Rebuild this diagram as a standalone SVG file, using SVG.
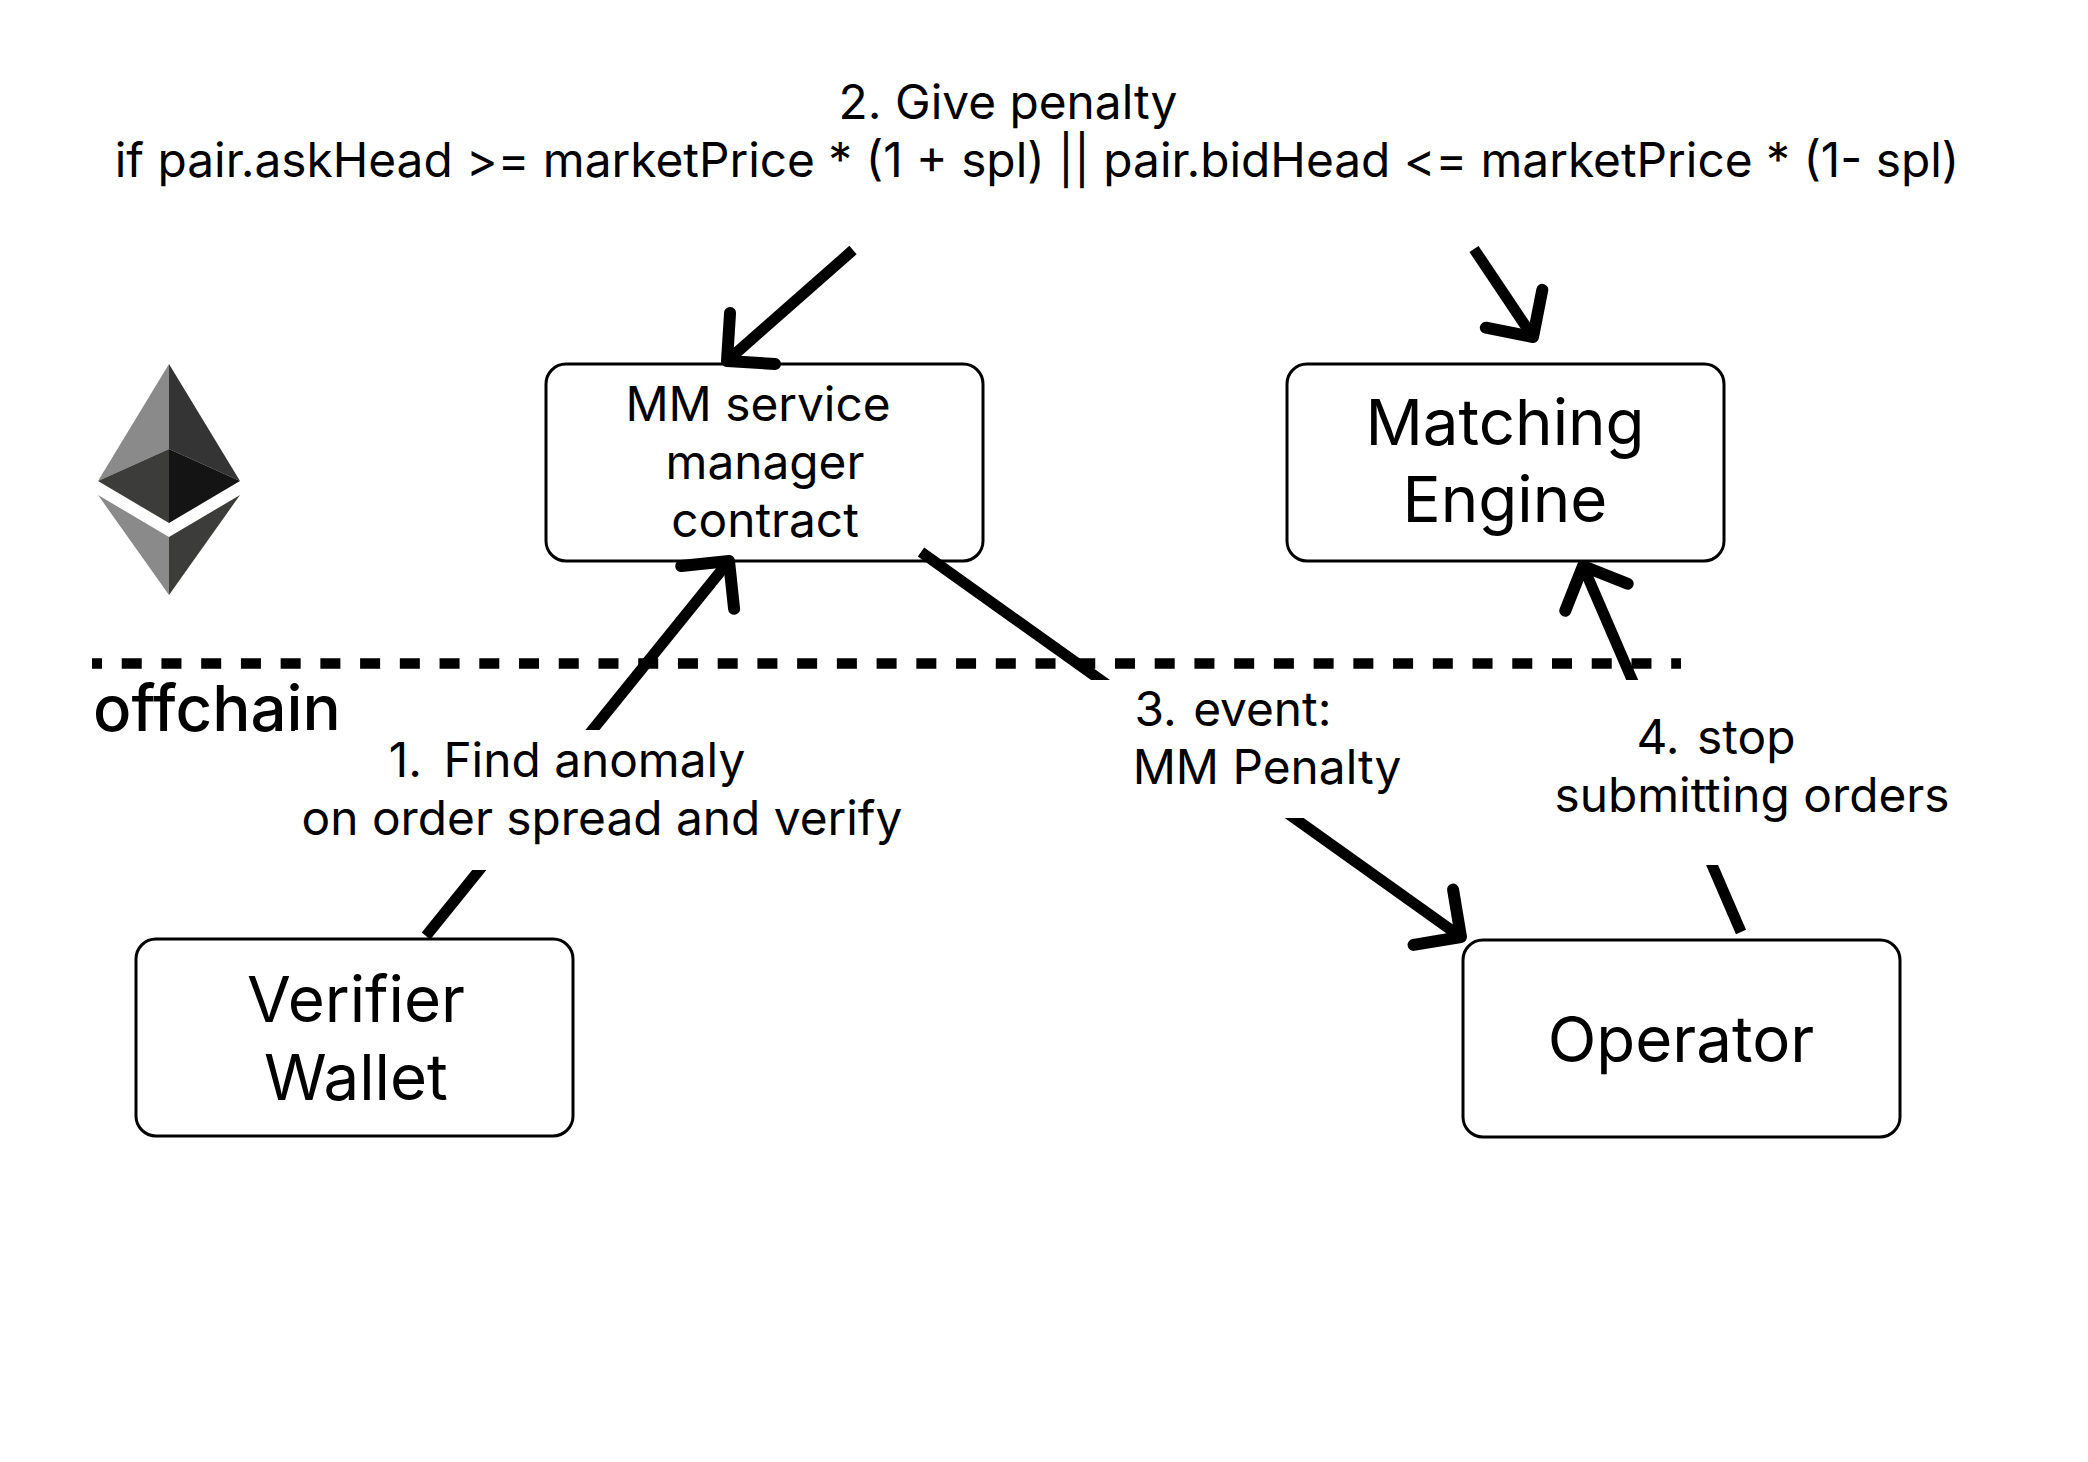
<svg xmlns="http://www.w3.org/2000/svg" width="2088" height="1462" viewBox="0 0 2088 1462">
<style>
text{font-family:Inter,"Liberation Sans",sans-serif;fill:#000;text-anchor:middle}
.s{font-size:47.8px}
.l{font-size:63.6px}
.box{fill:#fff;stroke:#000;stroke-width:3}
.c{fill:none;stroke:#000;stroke-width:11;marker-end:url(#a)}
.mask{fill:#fff}
</style>
<defs>
<marker id="a" markerUnits="userSpaceOnUse" markerWidth="100" markerHeight="100" refX="50" refY="50" orient="auto" viewBox="0 0 100 100" overflow="visible">
<path d="M16,16 L50,50 L16,84" fill="none" stroke="#000" stroke-width="12" stroke-linecap="round" stroke-linejoin="round"/>
</marker>
</defs>
<rect width="2088" height="1462" fill="#fff"/>
<g id="eth">
<polygon points="169,364 98,481 169,449" fill="#8a8a8a"/>
<polygon points="169,364 240,481 169,449" fill="#343434"/>
<polygon points="98,481 169,449 169,523" fill="#3c3c3b"/>
<polygon points="240,481 169,449 169,523" fill="#141414"/>
<polygon points="98,495 169,537 169,595" fill="#8a8a8a"/>
<polygon points="240,495 169,537 169,595" fill="#3c3c3b"/>
</g>
<g id="mm"><rect class="box" x="546" y="364" width="437" height="197" rx="20"/>
<text class="s" x="758" y="421">MM service</text><text class="s" x="765" y="479">manager</text><text class="s" x="765" y="537">contract</text></g>
<g id="engine"><rect class="box" x="1287" y="364" width="437" height="197" rx="20"/>
<text class="l" x="1505" y="445">Matching</text><text class="l" x="1505" y="522">Engine</text></g>
<g id="verifier"><rect class="box" x="136" y="939" width="437" height="197" rx="20"/>
<text class="l" x="356" y="1022">Verifier</text><text class="l" x="356" y="1100">Wallet</text></g>
<g id="operator"><rect class="box" x="1463" y="940" width="437" height="197" rx="20"/>
<text class="l" x="1681" y="1062">Operator</text></g>
<g id="boundary"><line x1="92" y1="663.5" x2="1681" y2="663.5" stroke="#000" stroke-width="10.5" stroke-dasharray="20 19.73" stroke-dashoffset="10"/>
<text class="l" x="217" y="731" style="font-weight:500">offchain</text></g>
<g id="connectors">
<line class="c" x1="426" y1="936" x2="729" y2="561"/>
<line class="c" x1="853" y1="250" x2="727" y2="361"/>
<line class="c" x1="1474" y1="249" x2="1533" y2="337"/>
<line class="c" x1="921" y1="552" x2="1461" y2="937"/>
<line class="c" x1="1741" y1="932" x2="1583" y2="566"/>
</g>
<g id="labels">
<rect class="mask" x="295" y="730" width="610" height="140"/>
<text class="s" x="567" y="777">1. <tspan dx="8">Find anomaly</tspan></text><text class="s" x="602" y="835">on order spread and verify</text>
<rect class="mask" x="1090" y="680" width="330" height="138"/>
<text class="s" x="1233" y="726">3. <tspan dx="3">event:</tspan></text><text class="s" x="1267" y="784">MM Penalty</text>
<rect class="mask" x="1540" y="680" width="430" height="185"/>
<text class="s" x="1716" y="754">4. <tspan dx="4">stop</tspan></text><text class="s" x="1752" y="812">submitting orders</text>
<text class="s" x="1008" y="119">2. Give penalty</text>
<text class="s" x="1037" y="177">if pair.askHead &gt;= marketPrice * (1 + spl) || pair.bidHead &lt;= marketPrice * (1- spl)</text>
</g>
</svg>
